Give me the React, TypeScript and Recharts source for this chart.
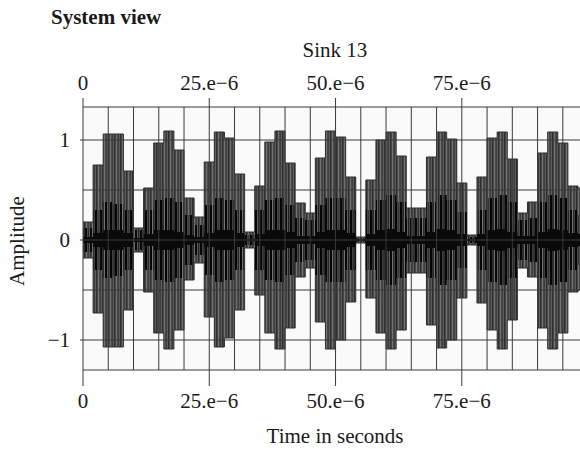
import React from "react";
import { ComposedChart, Area, XAxis, YAxis, ReferenceLine, CartesianGrid } from "recharts";

const BIN_US = 2;
const upperEnv = [
  0.18, 0.75, 1.06, 1.06, 0.69, 0.12, 0.52, 0.97, 1.09, 0.9,
  0.42, 0.23, 0.78, 1.08, 1.02, 0.66, 0.08, 0.54, 0.98, 1.09,
  0.77, 0.37, 0.27, 0.82, 1.09, 1.03, 0.63, 0.03, 0.6, 1.0,
  1.08, 0.84, 0.32, 0.32, 0.83, 1.08, 1.01, 0.57, 0.05, 0.63,
  1.02, 1.08, 0.81, 0.27, 0.38, 0.87, 1.08, 0.97, 0.54, 0.52,
];
const lowerEnv = [
  -0.18, -0.73, -1.07, -1.07, -0.7, -0.12, -0.52, -0.93, -1.09, -0.9,
  -0.4, -0.23, -0.77, -1.07, -0.98, -0.7, -0.08, -0.55, -0.93, -1.09,
  -0.88, -0.37, -0.28, -0.82, -1.09, -1.0, -0.62, -0.03, -0.58, -0.93,
  -1.09, -0.9, -0.33, -0.33, -0.85, -1.08, -1.0, -0.58, -0.05, -0.63,
  -0.9, -1.09, -0.8, -0.28, -0.37, -0.88, -1.09, -0.93, -0.52, -0.5,
];
// black inner oscillation: spike height and dense core
const blackPeak = [
  0.12, 0.3, 0.38, 0.36, 0.3, 0.1, 0.3, 0.4, 0.42, 0.38,
  0.25, 0.15, 0.35, 0.42, 0.4, 0.3, 0.05, 0.3, 0.4, 0.42,
  0.35, 0.22, 0.2, 0.35, 0.42, 0.42, 0.3, 0.02, 0.3, 0.4,
  0.45, 0.38, 0.22, 0.22, 0.38, 0.45, 0.4, 0.28, 0.03, 0.3,
  0.42, 0.45, 0.38, 0.2, 0.22, 0.38, 0.45, 0.42, 0.3, 0.25,
];
const blackCore = [
  0.03, 0.07, 0.1, 0.1, 0.07, 0.02, 0.06, 0.1, 0.1, 0.08,
  0.05, 0.03, 0.07, 0.1, 0.1, 0.07, 0.01, 0.06, 0.1, 0.1,
  0.08, 0.04, 0.04, 0.08, 0.1, 0.1, 0.07, 0.01, 0.06, 0.1,
  0.11, 0.08, 0.04, 0.04, 0.08, 0.11, 0.1, 0.06, 0.01, 0.06,
  0.1, 0.11, 0.08, 0.04, 0.04, 0.08, 0.11, 0.1, 0.07, 0.06,
];

const xGridTicks = [
  0, 5e-6, 10e-6, 15e-6, 20e-6, 25e-6, 30e-6, 35e-6, 40e-6, 45e-6,
  50e-6, 55e-6, 60e-6, 65e-6, 70e-6, 75e-6, 80e-6, 85e-6, 90e-6, 95e-6,
];
const xMajorTicks = [0, 25e-6, 50e-6, 75e-6];
const xTickLabels = ["0", "25.e\u22126", "50.e\u22126", "75.e\u22126"];
const yGridTicks = [-1, -0.5, 0, 0.5, 1];
const yMajorTicks = [-1, 0, 1];
const yTickLabels = ["\u22121", "0", "1"];

const X_DOMAIN: [number, number] = [0, 98.4e-6];
const Y_DOMAIN: [number, number] = [-1.3, 1.33];
const W = 580;
const H = 449;
const PLOT_TOP = 107;
const PLOT_BOTTOM = 370;
const PLOT_LEFT = 83;
const FONT = '"Liberation Serif", "Times New Roman", serif';
const INK = "#1a1a1a";
const GRID = "#3a3a3a";

const rows = upperEnv.map((hi, i) => ({
  t: i * BIN_US * 1e-6,
  gray: [lowerEnv[i], hi],
  peak: [-blackPeak[i], blackPeak[i]],
  core: [-blackCore[i], blackCore[i]],
}));
const last = upperEnv.length - 1;
rows.push({
  t: upperEnv.length * BIN_US * 1e-6,
  gray: [lowerEnv[last], upperEnv[last]],
  peak: [-blackPeak[last], blackPeak[last]],
  core: [-blackCore[last], blackCore[last]],
});

const TopTick = ({ x, payload }: any) => {
  const i = xMajorTicks.indexOf(payload.value);
  if (i < 0) return <g />;
  return (
    <g>
      <line x1={x} x2={x} y1={PLOT_TOP} y2={PLOT_TOP - 9} stroke={GRID} strokeWidth={1} />
      <text x={x} y={90} textAnchor="middle" fontFamily={FONT} fontSize={21} fill={INK}>
        {xTickLabels[i]}
      </text>
    </g>
  );
};

const BottomTick = ({ x, payload }: any) => {
  const i = xMajorTicks.indexOf(payload.value);
  if (i < 0) return <g />;
  return (
    <g>
      <line x1={x} x2={x} y1={PLOT_BOTTOM} y2={PLOT_BOTTOM + 16} stroke={GRID} strokeWidth={1} />
      <text x={x} y={408} textAnchor="middle" fontFamily={FONT} fontSize={21} fill={INK}>
        {xTickLabels[i]}
      </text>
    </g>
  );
};

const LeftTick = ({ y, payload }: any) => {
  const i = yMajorTicks.indexOf(payload.value);
  if (i < 0) return <g />;
  return (
    <g>
      <line x1={PLOT_LEFT - 3} x2={PLOT_LEFT} y1={y} y2={y} stroke={GRID} strokeWidth={1} />
      <text x={70} y={y + 7} textAnchor="end" fontFamily={FONT} fontSize={21} fill={INK}>
        {yTickLabels[i]}
      </text>
    </g>
  );
};

export default function App() {
  return (
    <div style={{ position: "absolute", left: 0, top: 0, width: W, height: H, background: "#fff", overflow: "hidden" }}>
      <ComposedChart
        width={W}
        height={H}
        data={rows}
        margin={{ top: 77, right: 0, bottom: 49, left: 23 }}
      >
        <defs>
          <pattern id="grayStripes" width="6" height="4" patternUnits="userSpaceOnUse">
            <rect width="6" height="4" fill="#4a4a4a" />
            <rect x="0" width="1.1" height="4" fill="#2e2e2e" />
            <rect x="2" width="1.1" height="4" fill="#737373" />
            <rect x="3.8" width="0.8" height="4" fill="#363636" />
            <rect x="5" width="0.7" height="4" fill="#666" />
          </pattern>
          <pattern id="blackStripes" width="5" height="4" patternUnits="userSpaceOnUse">
            <rect x="0" width="2" height="4" fill="#050505" />
            <rect x="3.3" width="0.7" height="4" fill="#1a1a1a" />
          </pattern>
        </defs>
        <CartesianGrid horizontal={false} vertical={false} fill="#fafafa" xAxisId="bottom" />
        <XAxis
          xAxisId="top"
          orientation="top"
          type="number"
          dataKey="t"
          domain={X_DOMAIN}
          allowDataOverflow
          ticks={xGridTicks}
          interval={0}
          height={30}
          tickLine={false}
          axisLine={{ stroke: GRID }}
          tick={<TopTick />}
        />
        <XAxis
          xAxisId="bottom"
          orientation="bottom"
          type="number"
          dataKey="t"
          domain={X_DOMAIN}
          allowDataOverflow
          ticks={xGridTicks}
          interval={0}
          height={30}
          tickLine={false}
          axisLine={{ stroke: GRID }}
          tick={<BottomTick />}
        />
        <YAxis
          type="number"
          domain={Y_DOMAIN}
          allowDataOverflow
          ticks={yGridTicks}
          interval={0}
          width={60}
          tickLine={false}
          axisLine={{ stroke: GRID }}
          tick={<LeftTick />}
        />
        <Area
          xAxisId="bottom"
          type="stepAfter"
          dataKey="gray"
          stroke="#2e2e2e"
          strokeWidth={1}
          fill="url(#grayStripes)"
          fillOpacity={1}
          isAnimationActive={false}
          dot={false}
          activeDot={false}
        />
        <Area
          xAxisId="bottom"
          type="stepAfter"
          dataKey="peak"
          stroke="none"
          fill="url(#blackStripes)"
          fillOpacity={1}
          isAnimationActive={false}
          dot={false}
          activeDot={false}
        />
        <Area
          xAxisId="bottom"
          type="stepAfter"
          dataKey="core"
          stroke="none"
          fill="#0a0a0a"
          fillOpacity={1}
          isAnimationActive={false}
          dot={false}
          activeDot={false}
        />
        {xGridTicks.slice(1).map((v) => (
          <ReferenceLine key={"vx" + v} xAxisId="bottom" x={v} stroke={GRID} strokeWidth={1} />
        ))}
        {yGridTicks.map((v) => (
          <ReferenceLine key={"hy" + v} xAxisId="bottom" y={v} stroke={GRID} strokeWidth={1} />
        ))}
      </ComposedChart>
      <svg width={W} height={H} style={{ position: "absolute", left: 0, top: 0, pointerEvents: "none" }}>
        <text x={51} y={24} fontFamily={FONT} fontSize={21} fontWeight="bold" fill={INK}>
          System view
        </text>
        <text x={335} y={57} textAnchor="middle" fontFamily={FONT} fontSize={21} fill={INK}>
          Sink 13
        </text>
        <text x={335} y={443} textAnchor="middle" fontFamily={FONT} fontSize={21} fill={INK}>
          Time in seconds
        </text>
        <text
          x={0}
          y={0}
          transform="translate(24 241) rotate(-90)"
          textAnchor="middle"
          fontFamily={FONT}
          fontSize={21}
          fill={INK}
        >
          Amplitude
        </text>
      </svg>
    </div>
  );
}
